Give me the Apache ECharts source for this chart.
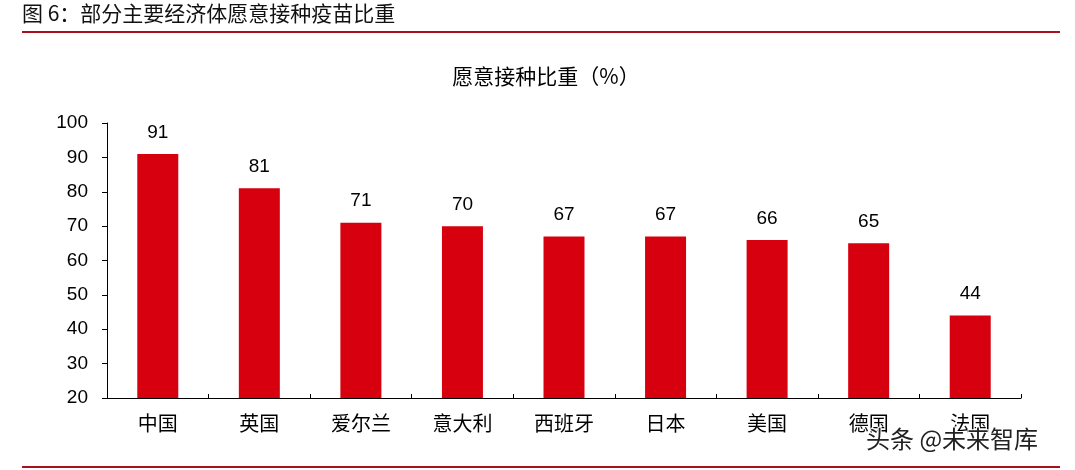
<!DOCTYPE html>
<html>
<head>
<meta charset="utf-8">
<script src="https://cdn.jsdelivr.net/npm/echarts@6/dist/echarts.min.js"></script>
<style>
html, body { margin: 0; padding: 0; background: #fff; }
#chart { width: 1075px; height: 470px; }
</style>
</head>
<body>
<div id="chart"></div>
<script>
const categories = ['中国', '英国', '爱尔兰', '意大利', '西班牙', '日本', '美国', '德国', '法国'];
const values = [91, 81, 71, 70, 67, 67, 66, 65, 44];
const yTicks = { min: 20, max: 100, interval: 10 };

const FONT = '"Liberation Sans", Arial, "Noto Sans CJK SC", sans-serif';
const CJK = '"Noto Sans CJK SC", "Liberation Sans", sans-serif';
const RED = '#d7000f';
const DARK_RED = '#a8111c';

const chart = echarts.init(document.getElementById('chart'), null, { renderer: 'canvas' });

chart.setOption({
    animation: false,
    backgroundColor: '#fff',
    title: {
        text: '愿意接种比重（%）',
        left: 541,
        textAlign: 'center',
        top: 61,
        textStyle: { fontFamily: CJK, fontSize: 21, fontWeight: 'normal', color: '#000' }
    },
    grid: { left: 107, right: 54, top: 123, bottom: 72 },
    xAxis: {
        type: 'category',
        data: categories,
        axisLine: { lineStyle: { color: '#000', width: 1 } },
        axisTick: { show: true, alignWithLabel: false, length: 4, inside: true, lineStyle: { color: '#000' } },
        axisLabel: { fontFamily: CJK, fontSize: 20, color: '#000', margin: 15 }
    },
    yAxis: {
        type: 'value',
        min: yTicks.min,
        max: yTicks.max,
        interval: yTicks.interval,
        axisLine: { show: true, lineStyle: { color: '#000', width: 1 } },
        axisTick: { show: true, length: 5, lineStyle: { color: '#000' } },
        splitLine: { show: false },
        axisLabel: { fontFamily: FONT, fontSize: 19, color: '#000', margin: 19 }
    },
    series: [{
        type: 'bar',
        data: values,
        barWidth: 41,
        itemStyle: { color: RED },
        label: {
            show: true,
            position: 'top',
            distance: 12,
            fontFamily: FONT,
            fontSize: 19,
            color: '#000'
        }
    }],
    graphic: [
        {
            type: 'text', left: 22, top: 3,
            style: { text: '图 6：部分主要经济体愿意接种疫苗比重', font: '21px ' + CJK, fill: '#111' }
        },
        {
            type: 'rect', shape: { x: 22, y: 31, width: 1038, height: 2 },
            style: { fill: DARK_RED }
        },
        {
            type: 'rect', shape: { x: 22, y: 466, width: 1038, height: 2 },
            style: { fill: DARK_RED }
        },
        {
            type: 'text', left: 865, top: 426, z: 10,
            style: {
                text: '头条 @未来智库', font: '24px ' + CJK,
                fill: '#222', stroke: '#fff', lineWidth: 2
            }
        }
    ]
});
</script>
</body>
</html>
